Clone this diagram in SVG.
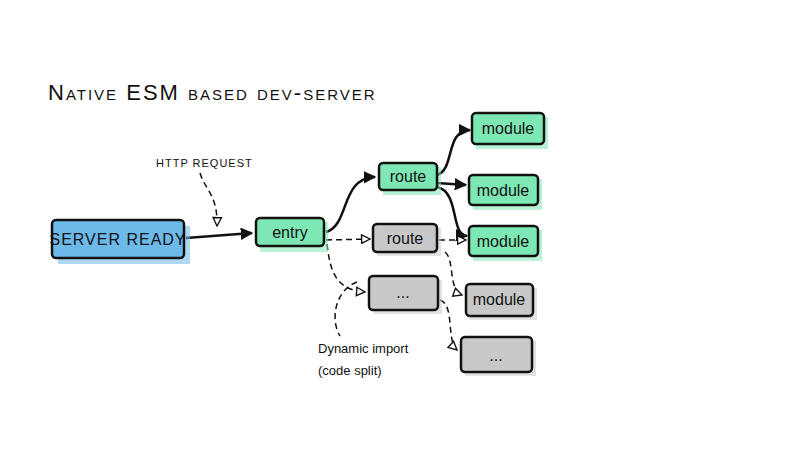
<svg xmlns="http://www.w3.org/2000/svg" width="800" height="450" viewBox="0 0 800 450">
<style>
.box{stroke:#111;stroke-width:2.5;}
.g{fill:#7ee8b4}.gy{fill:#c8c8c8}.b{fill:#6cb9ea}
.sh{opacity:0.55}
text{font-family:"Liberation Sans",sans-serif;fill:#111}
.lbl{font-size:16px;text-anchor:middle}
.c{fill:none;stroke:#111;stroke-width:2.5}
.d{fill:none;stroke:#111;stroke-width:1.5;stroke-dasharray:6 4}
</style>
<defs>
<marker id="a" viewBox="0 0 10 10" refX="9" refY="5" markerWidth="5" markerHeight="5" orient="auto"><path d="M0,0 L10,5 L0,10z" fill="#111"/></marker>
<marker id="o" viewBox="0 0 10 10" refX="9" refY="5" markerWidth="7" markerHeight="7" orient="auto"><path d="M1,1 L9,5 L1,9z" fill="#fff" stroke="#111" stroke-width="1.3"/></marker>
</defs>
<rect width="800" height="450" fill="#fff"/>
<text x="48" y="100" font-size="22" style="font-variant:small-caps;letter-spacing:2px">Native ESM based dev-server</text>
<text x="156" y="167" font-size="11" style="letter-spacing:1px">HTTP REQUEST</text>
<text x="318" y="353" font-size="13">Dynamic import</text>
<text x="318" y="375" font-size="13">(code split)</text>
<g id="connectors">
<path class="d" d="M200,173 C205,190 218,195 217,226" marker-end="url(#o)"/>
<path class="c" d="M186,238 L252,233" marker-end="url(#a)"/>
<path class="c" d="M326,232 C350,225 340,178 375,177" marker-end="url(#a)"/>
<path class="c" d="M437,175 C455,170 445,130 470,130" marker-end="url(#a)"/>
<path class="c" d="M437,183 L466,185" marker-end="url(#a)"/>
<path class="c" d="M437,187 C460,192 450,235 467,236" marker-end="url(#a)"/>
<path class="d" d="M326,240 L370,239" marker-end="url(#o)"/>
<path class="d" d="M439,240 L466,240" marker-end="url(#o)"/>
<path class="d" d="M327,244 C330,270 335,290 365,292" marker-end="url(#o)"/>
<path class="d" d="M445,252 C455,260 448,290 462,295" marker-end="url(#o)"/>
<path class="d" d="M440,300 C455,305 446,340 457,350" marker-end="url(#o)"/>
<path class="d" d="M357,282 C335,290 330,320 340,336"/>
</g>
<g id="server-ready"><rect class="b sh" x="58" y="226" width="132" height="38"/><rect class="box b" x="52" y="220" width="132" height="38" rx="4"/><text class="lbl" x="118" y="245" font-size="14" style="letter-spacing:1px">SERVER READY</text></g>
<g id="entry"><rect class="g sh" x="260" y="222" width="68" height="30"/><rect class="box g" x="256" y="218" width="68" height="28" rx="4"/><text class="lbl" x="290" y="238">entry</text></g>
<g id="route1"><rect class="g sh" x="383" y="167" width="58" height="28"/><rect class="box g" x="379" y="163" width="58" height="27" rx="4"/><text class="lbl" x="408" y="182">route</text></g>
<g id="module1"><rect class="g sh" x="476" y="117" width="72" height="32"/><rect class="box g" x="472" y="113" width="72" height="31" rx="4"/><text class="lbl" x="508" y="134">module</text></g>
<g id="module2"><rect class="g sh" x="473" y="179" width="69" height="31"/><rect class="box g" x="469" y="175" width="69" height="30" rx="4"/><text class="lbl" x="503" y="196">module</text></g>
<g id="module3"><rect class="g sh" x="473" y="230" width="69" height="31"/><rect class="box g" x="469" y="226" width="69" height="30" rx="4"/><text class="lbl" x="503" y="247">module</text></g>
<g id="route2"><rect class="gy sh" x="377" y="228" width="64" height="28"/><rect class="box gy" x="373" y="224" width="64" height="28" rx="4"/><text class="lbl" x="405" y="244">route</text></g>
<g id="dots1"><rect class="gy sh" x="373" y="280" width="69" height="34"/><rect class="box gy" x="369" y="276" width="69" height="34" rx="4"/><text class="lbl" x="403" y="298">...</text></g>
<g id="module4"><rect class="gy sh" x="470" y="288" width="67" height="32"/><rect class="box gy" x="466" y="284" width="67" height="32" rx="4"/><text class="lbl" x="499" y="305">module</text></g>
<g id="dots2"><rect class="gy sh" x="465" y="341" width="71" height="35"/><rect class="box gy" x="461" y="337" width="71" height="35" rx="4"/><text class="lbl" x="496" y="361">...</text></g>
</svg>
